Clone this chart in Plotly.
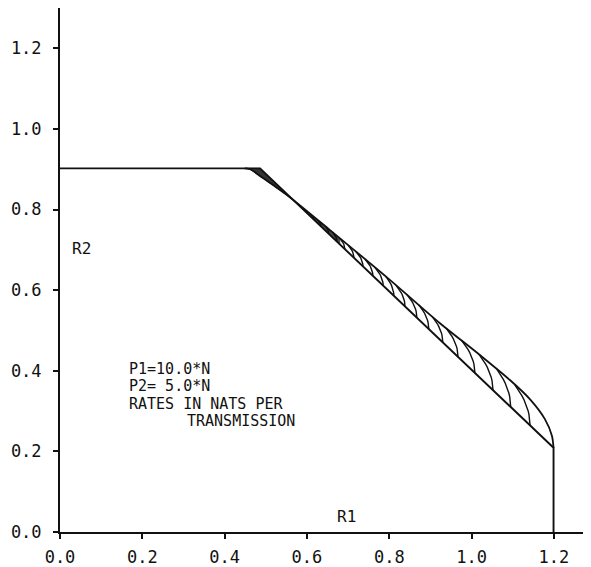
import numpy as np
import plotly.graph_objects as go

# ---- data (rates in nats) ----
bound_x = [0.0, 0.486, 1.199, 1.199]
bound_y = [0.902, 0.902, 0.209, 0.0]

curve_x = [0.449, 0.462, 0.493, 0.527, 0.559, 0.656, 0.802, 0.923, 1.020, 1.093, 1.142, 1.178, 1.195, 1.199]
curve_y = [0.902, 0.900, 0.878, 0.854, 0.830, 0.749, 0.625, 0.518, 0.439, 0.377, 0.329, 0.280, 0.239, 0.209]

# hatching arcs: start on the upper curve, end on the straight boundary
arc_top_x = [0.570, 0.581, 0.595, 0.612, 0.627, 0.646, 0.663, 0.680, 0.700, 0.719, 0.741, 0.765,
             0.792, 0.816, 0.843, 0.872, 0.904, 0.938, 0.976, 1.018, 1.061, 1.105]
arc_bot_x = [0.571, 0.583, 0.600, 0.617, 0.634, 0.653, 0.673, 0.692, 0.714, 0.736, 0.760, 0.785,
             0.811, 0.838, 0.867, 0.896, 0.930, 0.967, 1.008, 1.052, 1.095, 1.142]

dense_end_x = 0.68  # end of the densely shaded part of the band

tick_vals = [0.0, 0.2, 0.4, 0.6, 0.8, 1.0, 1.2]
tick_text = ["0.0", "0.2", "0.4", "0.6", "0.8", "1.0", "1.2"]

info_lines = ["P1=10.0*N", "P2= 5.0*N", "RATES IN NATS PER", "TRANSMISSION"]
info_x = [0.163, 0.163, 0.163, 0.304]
info_y = [0.405, 0.362, 0.318, 0.275]

FONT = "DejaVu Sans Mono"
INK = "#111111"

fig = go.Figure()

cx = np.array(curve_x)
cy = np.array(curve_y)

def line_y(x):
    return np.interp(x, bound_x[1:3], bound_y[1:3])

# dark (densely hatched) wedge near the corner
mask = cx <= 0.559
wedge_x = [curve_x[0], bound_x[1]] + list(cx[mask][::-1])
wedge_y = [curve_y[0], bound_y[1]] + list(cy[mask][::-1])
fig.add_trace(go.Scatter(x=wedge_x, y=wedge_y, mode="lines", fill="toself",
                         fillcolor="#333333", line=dict(color="#333333", width=1),
                         hoverinfo="skip", showlegend=False))

# dense grey part of the band just after the crossing
seg = np.linspace(0.559, dense_end_x, 12)
band_upper = np.interp(seg, curve_x, curve_y)
band_lower = line_y(seg)
fig.add_trace(go.Scatter(x=list(seg) + list(seg[::-1]),
                         y=list(band_upper) + list(band_lower[::-1]),
                         mode="lines", fill="toself", fillcolor="#4a4a4a",
                         line=dict(color="#4a4a4a", width=0.5),
                         hoverinfo="skip", showlegend=False))

# hatching arcs
t = np.linspace(0, 1, 12)
for xs, xe in zip(arc_top_x, arc_bot_x):
    ys = np.interp(xs, curve_x, curve_y)
    ye = float(line_y(xe))
    ax = xs + (xe - xs) * (1 - (1 - t) ** 2)
    ay = ys + (ye - ys) * t
    fig.add_trace(go.Scatter(x=ax, y=ay, mode="lines",
                             line=dict(color=INK, width=1.4),
                             hoverinfo="skip", showlegend=False))

# upper curve
fig.add_trace(go.Scatter(x=curve_x, y=curve_y, mode="lines",
                         line=dict(color=INK, width=1.8, shape="spline", smoothing=0.8),
                         showlegend=False))
# outer polygonal boundary
fig.add_trace(go.Scatter(x=bound_x, y=bound_y, mode="lines",
                         line=dict(color=INK, width=1.9),
                         showlegend=False))

annotations = []
for txt, xx, yy in zip(info_lines, info_x, info_y):
    annotations.append(dict(x=xx, y=yy, text=txt, showarrow=False, xanchor="left",
                            yanchor="middle", font=dict(family=FONT, size=15, color=INK)))
annotations.append(dict(x=0.024, y=0.704, text="R2", showarrow=False, xanchor="left",
                        yanchor="middle", font=dict(family=FONT, size=16, color=INK)))
annotations.append(dict(x=0.697, y=0.038, text="R1", showarrow=False, xanchor="center",
                        yanchor="middle", font=dict(family=FONT, size=16, color=INK)))

axis_common = dict(showgrid=False, zeroline=False, showline=True, linecolor=INK,
                   linewidth=2, ticks="outside", ticklen=5, tickwidth=1.5, tickcolor=INK,
                   tickvals=tick_vals, ticktext=tick_text, automargin=False,
                   tickfont=dict(family=FONT, size=17, color=INK))

# the page body adds an 8 px offset, so the figure is 8 px smaller each way
fig.update_layout(
    width=583, height=559,
    margin=dict(l=52, r=0, t=0, b=35),
    paper_bgcolor="white", plot_bgcolor="white",
    xaxis=dict(range=[0, 1.29], ticklabelstandoff=4, **axis_common),
    yaxis=dict(range=[0, 1.3], ticklabelstandoff=8, **axis_common),
    annotations=annotations,
)

fig.write_html("out.html")
